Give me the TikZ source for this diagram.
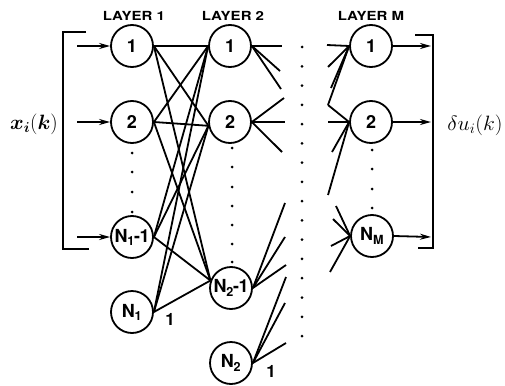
\documentclass[tikz,border=0pt]{standalone}
\usepackage{bm}
\usepackage{fontspec}
\setsansfont{TeX Gyre Heros}
\usetikzlibrary{arrows.meta}
\begin{document}
\begin{tikzpicture}[x=1pt,y=-1pt,
  neuron/.style={circle,draw,line width=1.8pt,minimum size=42pt,inner sep=0pt,
    font=\sffamily\bfseries\fontsize{18}{18}\selectfont},
  link/.style={line width=1.8pt},
  sigarrow/.style={line width=1.8pt,-{Stealth[length=11pt,width=6pt]}},
  brack/.style={line width=1.8pt},
  layerlabel/.style={font=\sffamily\bfseries\fontsize{12.5}{13}\selectfont,xscale=1.2},
  onelabel/.style={font=\sffamily\bfseries\fontsize{17}{17}\selectfont},
  mathlabel/.style={font=\fontsize{22}{22}\selectfont},
  dotr/.style={fill=black}]
\useasboundingbox (0,0) rectangle (505,385);

% layer titles
\node[layerlabel] (t1) at (134,16) {LAYER 1};
\node[layerlabel] (t2) at (233,16) {LAYER 2};
\node[layerlabel] (t3) at (371,16) {LAYER M};

% layer 1
\node[neuron] (a1) at (132,46) {1};
\node[neuron] (a2) at (132,122) {2};
\node[neuron] (a3) at (132,237) {N\textsubscript{1}\kern-1pt-\kern-0.5pt1};
\node[neuron] (a4) at (132,312) {N\textsubscript{1}};
% layer 2
\node[neuron] (b1) at (230,46) {1};
\node[neuron] (b2) at (230,122) {2};
\node[neuron] (b3) at (231,288) {N\textsubscript{2}\kern-1pt-\kern-0.5pt1};
\node[neuron] (b4) at (231,363) {N\textsubscript{2}};
% layer M
\node[neuron] (m1) at (371,46) {1};
\node[neuron] (m2) at (371,122) {2};
\node[neuron] (m3) at (372,236) {N\textsubscript{M}};

\node[onelabel] (n1one) at (170,319) {1};
\node[onelabel] (n2one) at (271,371) {1};

% dots
\foreach \y in {153,172,192,212} \fill[dotr] (132,\y) circle (1.5pt);
\foreach \y in {148,167,187,206,225,244,262} \fill[dotr] (232,\y) circle (1.5pt);
\foreach \y in {150,169,189,208} \fill[dotr] (372,\y) circle (1.5pt);
\foreach \i in {0,...,15} \fill[dotr] (302,47+\i*19.27) circle (1.5pt);

% full connections layer 1 -> layer 2
\foreach \na in {a1,a2,a3,a4}
  \foreach \nb/\ang in {b1/180,b2/190,b3/160}
    \draw[link] (\na.east) -- (\nb.\ang);

% fan-out stubs from layer 2
\coordinate (f11) at (282,46);  \coordinate (f12) at (280,71);  \coordinate (f13) at (281,89);
\coordinate (f21) at (284,98);  \coordinate (f22) at (285,122); \coordinate (f23) at (282,152);
\coordinate (f31) at (285,203); \coordinate (f32) at (285,237); \coordinate (f33) at (286,265);
\coordinate (f41) at (286,277); \coordinate (f42) at (285,303); \coordinate (f43) at (286,343);
\foreach \k in {1,2,3} {
  \draw[link] (b1.east) -- (f1\k);
  \draw[link] (b2.east) -- (f2\k);
  \draw[link] (b3.east) -- (f3\k);
  \draw[link] (b4.east) -- (f4\k);
}

% fan-in stubs to layer M
\coordinate (g11) at (327,45);  \coordinate (g12) at (328,67);
\coordinate (g13) at (331,88);  \coordinate (gv) at (328,105);
\coordinate (g21) at (328,122); \coordinate (g22) at (332,152); \coordinate (g23) at (328,195);
\coordinate (g31) at (336,206); \coordinate (g32) at (333,219); \coordinate (g33) at (331,246); \coordinate (g34) at (330,272);
\foreach \g in {g11,g12,g13,gv} \draw[link] (\g) -- (m1.west);
\foreach \g in {gv,g21,g22,g23} \draw[link] (\g) -- (m2.west);
\foreach \g in {g31,g32,g33,g34} \draw[link] (\g) -- (m3.west);

% inputs
\coordinate (i1) at (77,46); \coordinate (i2) at (77,122); \coordinate (i3) at (77,237);
\draw[sigarrow] (i1) -- (a1.west);
\draw[sigarrow] (i2) -- (a2.west);
\draw[sigarrow] (i3) -- (a3.west);
% outputs
\coordinate (o1) at (431,46); \coordinate (o2) at (431,122); \coordinate (o3) at (431,237);
\draw[sigarrow] (m1.east) -- (o1);
\draw[sigarrow] (m2.east) -- (o2);
\draw[sigarrow] (m3.east) -- (o3);

% brackets
\draw[brack] (86,32) -- (63,32) -- (63,249) -- (89,249);
\draw[brack] (415,35) -- (433,35) -- (433,248) -- (418,248);

% side labels
\node[mathlabel] (xin) at (34,124) {$\bm{x}_{\bm{i}}(\bm{k})$};
\node[mathlabel,xscale=1.05] (uout) at (475,125) {$\delta u_i(k)$};
\end{tikzpicture}
\end{document}
